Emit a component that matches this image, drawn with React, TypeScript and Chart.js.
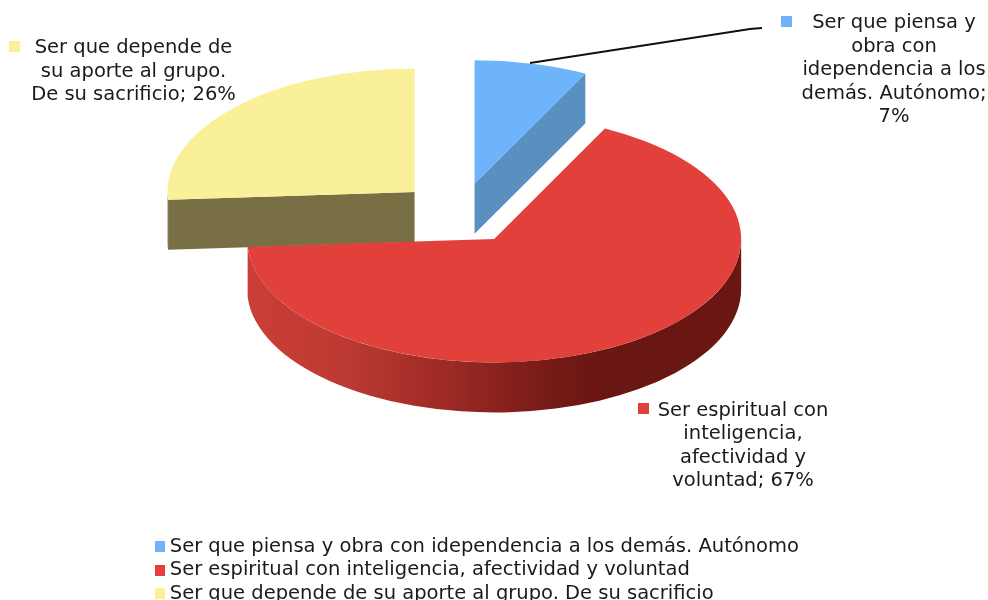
import React, { useEffect, useRef } from "react";
import { Chart, registerables } from "chart.js";

Chart.register(...registerables);

const categories = [
  "Ser que piensa y obra con idependencia a los demás. Autónomo",
  "Ser espiritual con inteligencia, afectividad y voluntad",
  "Ser que depende de su aporte al grupo. De su sacrificio",
];
const percentages = [7.4, 66.6, 26];
const topColors = ["#6EB4FA", "#E2413B", "#FAF09A"];
const sideColors = ["#5A8FC2", "#8E2420", "#787044"];
const explode = [61, 61, 63];
const labelLines = [
  ["Ser que piensa y", "obra con", "idependencia a los", "demás. Autónomo;", "7%"],
  ["Ser espiritual con", "inteligencia,", "afectividad y", "voluntad; 67%"],
  ["Ser que depende de", "su aporte al grupo.", "De su sacrificio; 26%"],
];

const CENTER_Y = 213.5;
const SQUASH = 0.5;
const DEPTH = 50;
const FONT = '"DejaVu Sans", sans-serif';
const labelBoxes = [
  { cx: 894, firstY: 23, mx: 781, my: 16 },
  { cx: 743, firstY: 410.5, mx: 638, my: 403 },
  { cx: 133.5, firstY: 48, mx: 9, my: 41 },
];

const offsetOf = (arc: any, i: number) => {
  const mid = (arc.startAngle + arc.endAngle) / 2;
  return {
    x: arc.x + Math.cos(mid) * explode[i],
    y: CENTER_Y + Math.sin(mid) * explode[i] * SQUASH,
  };
};

const swatch = (color: string) => {
  const c = document.createElement("canvas");
  c.width = 11;
  c.height = 11;
  const x = c.getContext("2d")!;
  x.fillStyle = color;
  x.fillRect(0, 0, 11, 11);
  return c;
};

const pie3d = {
  id: "pie3d",
  beforeDatasetDraw(chart: any) {
    const { ctx } = chart;
    const arcs = chart.getDatasetMeta(0).data;

    [2, 0, 1].forEach((i) => {
      const a = arcs[i];
      const c = offsetOf(a, i);
      const r = a.outerRadius;
      const px = (t: number) => c.x + Math.cos(t) * r;
      const py = (t: number) => c.y + Math.sin(t) * r * SQUASH;
      const radial = (t: number) => {
        ctx.beginPath();
        ctx.moveTo(c.x, c.y);
        ctx.lineTo(px(t), py(t));
        ctx.lineTo(px(t), py(t) + DEPTH);
        ctx.lineTo(c.x, c.y + DEPTH);
        ctx.closePath();
        ctx.fillStyle = sideColors[i];
        ctx.fill();
      };
      if (Math.sin(a.startAngle - Math.PI / 2) > 0.01) radial(a.startAngle);
      if (Math.sin(a.endAngle + Math.PI / 2) > 0.01) radial(a.endAngle);

      const from = Math.max(a.startAngle, 0);
      const to = Math.min(a.endAngle, Math.PI);
      if (to > from) {
        const g = ctx.createLinearGradient(c.x - r, 0, c.x + r, 0);
        if (i === 1) {
          g.addColorStop(0, "#CB3E37");
          g.addColorStop(0.2, "#BC3A33");
          g.addColorStop(0.4, "#9E2A25");
          g.addColorStop(0.62, "#741A16");
          g.addColorStop(0.72, "#6A1613");
          g.addColorStop(1, "#6A1613");
        }
        ctx.beginPath();
        ctx.ellipse(c.x, c.y, r, r * SQUASH, 0, from, to);
        ctx.ellipse(c.x, c.y + DEPTH, r, r * SQUASH, 0, to, from, true);
        ctx.closePath();
        ctx.fillStyle = i === 1 ? g : sideColors[i];
        ctx.fill();
      }
    });

    arcs.forEach((a: any, i: number) => {
      const c = offsetOf(a, i);
      ctx.save();
      ctx.translate(c.x, c.y);
      ctx.scale(1, SQUASH);
      ctx.translate(-a.x, -a.y);
      a.draw(ctx);
      ctx.restore();
    });
    return false;
  },
  afterLayout(chart: any) {
    const l = chart.legend;
    const w = l.right - l.left;
    l.left = 155;
    l.right = l.left + w;
    const h = l.bottom - l.top;
    l.top = 533;
    l.bottom = l.top + h;
  },
  afterDraw(chart: any) {
    const { ctx } = chart;
    ctx.save();
    ctx.strokeStyle = "#111111";
    ctx.lineWidth = 1.8;
    ctx.beginPath();
    ctx.moveTo(530, 63);
    ctx.lineTo(750, 29);
    ctx.lineTo(762, 28);
    ctx.stroke();

    ctx.font = `19.5px ${FONT}`;
    ctx.textAlign = "center";
    ctx.textBaseline = "middle";
    labelLines.forEach((lines, i) => {
      const b = labelBoxes[i];
      ctx.fillStyle = topColors[i];
      ctx.fillRect(b.mx, b.my, 11, 11);
      ctx.fillStyle = "#1A1A1A";
      lines.forEach((t, n) => ctx.fillText(t, b.cx, b.firstY + n * 23.6));
    });
    ctx.restore();
  },
};

export default function App() {
  const ref = useRef<HTMLCanvasElement>(null);
  useEffect(() => {
    document.body.style.margin = "0";
    const baseLabels = (Chart as any).overrides.pie.plugins.legend.labels.generateLabels;
    const chart = new Chart(ref.current!, {
      type: "pie",
      data: {
        labels: categories,
        datasets: [
          {
            data: percentages,
            backgroundColor: topColors,
            borderWidth: 0,
            radius: 247,
            clip: false,
          } as any,
        ],
      },
      options: {
        responsive: false,
        animation: false,
        layout: { padding: { right: 67 } },
        plugins: {
          tooltip: { enabled: false },
          legend: {
            position: "bottom",
            align: "start",
            labels: {
              font: { family: FONT, size: 19.5 },
              color: "#1A1A1A",
              usePointStyle: true,
              pointStyleWidth: 1,
              boxHeight: 11,
              padding: 4,
              generateLabels: (c: any) =>
                baseLabels(c).map((item: any, i: number) => ({
                  ...item,
                  pointStyle: swatch(topColors[i]),
                })),
            },
          },
        },
      },
      plugins: [pie3d],
    } as any);
    return () => chart.destroy();
  }, []);
  return <canvas ref={ref} width={988} height={600} style={{ display: "block" }} />;
}
